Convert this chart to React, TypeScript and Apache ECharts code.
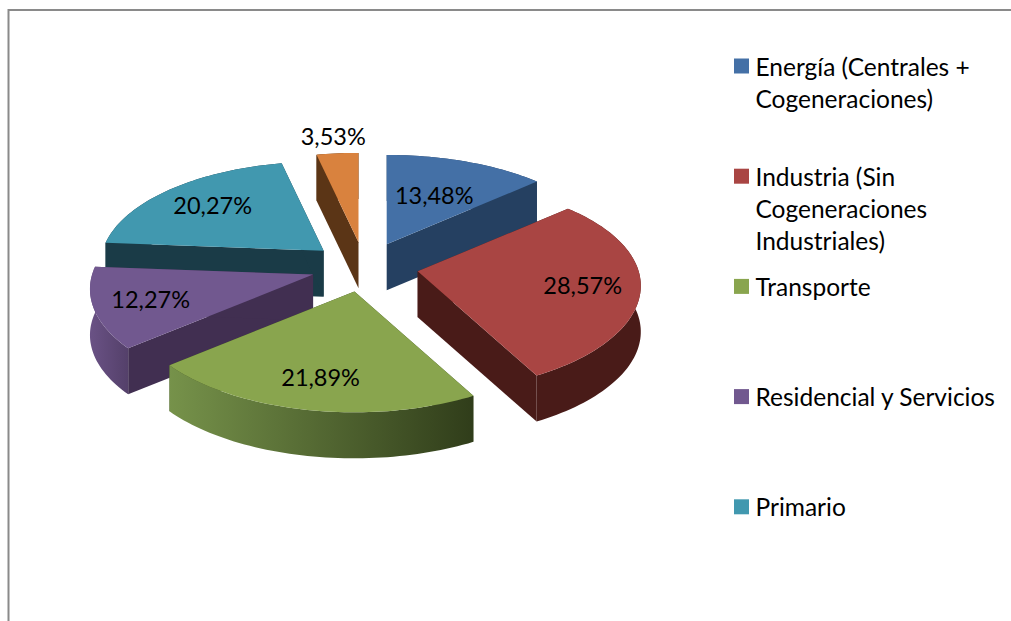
import React, { useEffect, useRef } from "react";
import * as echarts from "echarts";

const categories = [
  "Energía (Centrales +\nCogeneraciones)",
  "Industria (Sin\nCogeneraciones\nIndustriales)",
  "Transporte",
  "Residencial y Servicios",
  "Primario",
  "Otros",
];
const shares = [13.48, 28.57, 21.89, 12.27, 20.27, 3.53];
const topColors = ["#4470A6", "#A94543", "#89A54E", "#71588F", "#4198AF", "#D9823E"];
const wallColors = ["#254061", "#491B18", "#3A4A20", "#412F51", "#1A3B47", "#5B3516"];
const rimGradients: string[][] = [
  ["#254061", "#254061"],
  ["#491B18", "#491B18"],
  ["#76924A", "#303D1A"],
  ["#6A5285", "#54406A"],
  ["#1A3B47", "#1A3B47"],
  ["#5B3516", "#5B3516"],
];
const labelRadii = [0.6, 0.74, 0.72, 0.74, 0.73, 1.2];
const legendCount = 5;

const FONT = "Lato, 'Open Sans', sans-serif";
const CX = 364.5, CY = 267, RX = 221, RY = 105, PERSP_X = 0.14, PERSP_Y = 0.15, DEPTH = 46, EX = 54, EY = 25;
const total = shares.reduce((a, b) => a + b, 0);
const fmt = (v: number) => v.toFixed(2).replace(".", ",") + "%";

function renderSlice(params: any, api: any) {
  const i = params.dataIndex;
  const start = (shares.slice(0, i).reduce((a, b) => a + b, 0) / total) * Math.PI * 2;
  const value = api.value(0) as number;
  const sweep = (value / total) * Math.PI * 2;
  const end = start + sweep;
  const mid = (start + end) / 2;
  const ax = CX + Math.sin(mid) * EX;
  const ay = CY - Math.cos(mid) * EY;
  const at = (t: number, r = 1): number[] => [
    ax + Math.sin(t) * RX * (1 - PERSP_X * Math.cos(t)) * r,
    ay - Math.cos(t) * RY * (1 - PERSP_Y * Math.cos(t)) * r,
  ];
  const drop = (p: number[]) => [p[0], p[1] + DEPTH];
  const rim: number[][] = [];
  const steps = Math.max(6, Math.ceil(sweep * 40));
  for (let s = 0; s <= steps; s++) rim.push(at(start + (sweep * s) / steps));
  const apex = [ax, ay];
  const base = Math.round(-Math.cos(mid) * 100) * 4 + 1000;
  const wall = wallColors[i];
  const grad = rimGradients[i];
  const lp = at(mid, labelRadii[i]);
  return {
    type: "group",
    children: [
      { type: "polygon", z2: base, shape: { points: [apex, rim[0], drop(rim[0]), drop(apex)] }, style: { fill: wall } },
      { type: "polygon", z2: base, shape: { points: [apex, rim[steps], drop(rim[steps]), drop(apex)] }, style: { fill: wall } },
      {
        type: "polygon",
        z2: base + 1,
        shape: { points: [...rim, ...rim.slice().reverse().map(drop)] },
        style: {
          fill: new echarts.graphic.LinearGradient(0, 0, 1, 0, [
            { offset: 0, color: grad[0] },
            { offset: 1, color: grad[1] },
          ]),
        },
      },
      { type: "polygon", z2: base + 2, shape: { points: [apex, ...rim] }, style: { fill: topColors[i] } },
      {
        type: "text",
        z2: 5000,
        x: lp[0],
        y: lp[1],
        style: { text: fmt(value), fill: "#000", font: `23.5px ${FONT}`, align: "center", verticalAlign: "middle" },
      },
    ],
  };
}

export default function App() {
  const ref = useRef<HTMLDivElement>(null);
  useEffect(() => {
    document.body.style.margin = "0";
    const chart = echarts.init(ref.current!, null, { renderer: "svg" });
    const legendGraphics: any[] = [];
    categories.slice(0, legendCount).forEach((name, i) => {
      const cy = 66 + i * 110.2;
      legendGraphics.push({
        type: "rect",
        shape: { x: 734, y: cy - 7.5, width: 15, height: 15 },
        style: { fill: topColors[i] },
      });
      legendGraphics.push({
        type: "text",
        x: 755.5,
        y: cy - 16,
        style: { text: name, fill: "#000", font: `24.5px ${FONT}`, lineHeight: 32, verticalAlign: "top", align: "left" },
      });
    });
    chart.setOption({
      animation: false,
      backgroundColor: "#fff",
      graphic: [
        {
          type: "polyline",
          shape: { points: [[8.5, 621], [8.5, 10], [1011, 10]] },
          style: { stroke: "#8a8a8a", lineWidth: 2, fill: "none" },
        },
        ...legendGraphics,
      ],
      series: [
        {
          type: "custom",
          coordinateSystem: "none",
          renderItem: renderSlice,
          data: shares.map((v, i) => ({ name: categories[i], value: [v] })),
        },
      ],
    });
    return () => chart.dispose();
  }, []);
  return <div ref={ref} style={{ position: "absolute", left: 0, top: 0, width: 1011, height: 621 }} />;
}
